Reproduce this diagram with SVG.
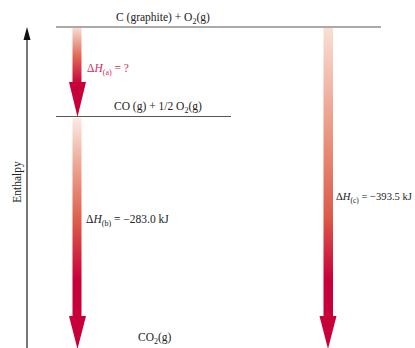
<svg xmlns="http://www.w3.org/2000/svg" width="415" height="348" viewBox="0 0 415 348">
<style>
text{font-family:"Liberation Serif","Times New Roman",serif;font-size:11.5px;fill:#222}
.lvl{stroke:#555;stroke-width:1.2}
.pink{fill:#d42a5c}
.it{font-style:italic}
.sub{font-size:8px}
.sm{font-size:10.6px}
.sm .sub{font-size:7.5px}
</style>
<defs>
<linearGradient id="ga" gradientUnits="userSpaceOnUse" x1="0" y1="28" x2="0" y2="84">
<stop offset="0" stop-color="#f8dcd2"/><stop offset="0.5" stop-color="#e06a55"/><stop offset="1" stop-color="#c8003a"/>
</linearGradient>
<linearGradient id="gb" gradientUnits="userSpaceOnUse" x1="0" y1="118" x2="0" y2="280">
<stop offset="0" stop-color="#fbeae4"/><stop offset="0.3" stop-color="#eca592"/><stop offset="0.65" stop-color="#dc5a48"/><stop offset="1" stop-color="#c8003a"/>
</linearGradient>
<linearGradient id="gc" gradientUnits="userSpaceOnUse" x1="0" y1="28" x2="0" y2="280">
<stop offset="0" stop-color="#f9dfd5"/><stop offset="0.4" stop-color="#eb9a85"/><stop offset="0.75" stop-color="#dc5a48"/><stop offset="1" stop-color="#c8003a"/>
</linearGradient>
</defs>
<g id="axis">
<line x1="27" y1="38" x2="27" y2="348" stroke="#555" stroke-width="1.6"/>
<polygon points="27,27 23.5,40 30.5,40" fill="#111"/>
<text transform="translate(21,182) rotate(-90)" text-anchor="middle">Enthalpy</text>
</g>
<g id="level-top">
<line class="lvl" x1="56" y1="27" x2="381" y2="27"/>
<text x="116" y="21">C (graphite) + O<tspan class="sub" dy="3">2</tspan><tspan dy="-3">(g)</tspan></text>
</g>
<g id="level-mid">
<line class="lvl" x1="56" y1="116.5" x2="231" y2="116.5"/>
<text x="114" y="110">CO (g) + 1/2 O<tspan class="sub" dy="3">2</tspan><tspan dy="-3">(g)</tspan></text>
</g>
<g id="level-bottom">
<text x="138" y="341">CO<tspan class="sub" dy="3">2</tspan><tspan dy="-3">(g)</tspan></text>
</g>
<g id="connectors">
<g id="arrow-a">
<rect x="72.5" y="28" width="9" height="55" fill="url(#ga)"/>
<polygon points="69,82 86,82 77.5,117" fill="#c8003a"/>
<text x="87" y="72" class="pink">Δ<tspan class="it pink">H</tspan><tspan class="sub pink" dy="3">(a)</tspan><tspan class="pink" dy="-3"> = ?</tspan></text>
</g>
<g id="arrow-b">
<rect x="72.5" y="118" width="9" height="199" fill="url(#gb)"/>
<polygon points="69,316 86,316 77.5,349" fill="#c8003a"/>
<text x="86" y="223">Δ<tspan class="it">H</tspan><tspan class="sub" dy="3">(b)</tspan><tspan dy="-3"> = −283.0 kJ</tspan></text>
</g>
<g id="arrow-c">
<rect x="323.5" y="28" width="9.5" height="289" fill="url(#gc)"/>
<polygon points="319.5,316 336.5,316 328,349" fill="#c8003a"/>
<text x="336" y="200" class="sm">Δ<tspan class="it">H</tspan><tspan class="sub" dy="3">(c)</tspan><tspan dy="-3"> = −393.5 kJ</tspan></text>
</g>
</g>
</svg>
